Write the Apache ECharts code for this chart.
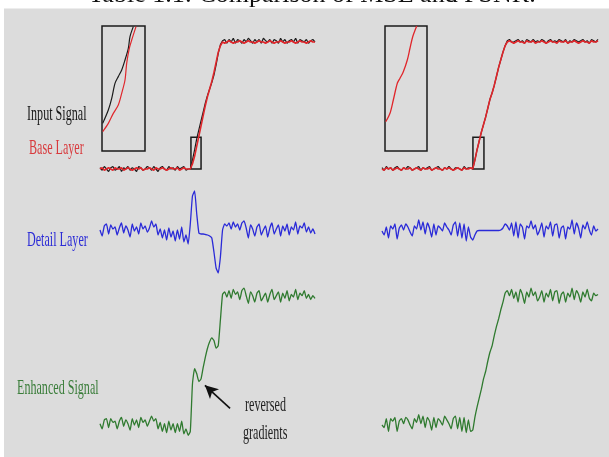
<!DOCTYPE html>
<html>
<head>
<meta charset="utf-8">
<script src="https://cdn.jsdelivr.net/npm/echarts@6/dist/echarts.min.js"></script>
<style>
html,body{margin:0;padding:0;background:#ffffff;}
#chart{width:609px;height:457px;}
</style>
</head>
<body>
<div id="chart"></div>
<script>
// ---- data (sample index 0..100 along each signal) ----
var inputLeft = [0.01,-0.01,0.02,0.0,-0.02,0.01,0.02,-0.01,0.0,0.02,-0.02,0.01,0.0,0.02,-0.01,0.01,0.0,-0.02,0.02,0.01,-0.01,0.0,0.02,0.01,-0.01,0.02,0.0,-0.02,0.01,0.02,0.0,-0.01,0.02,0.0,0.01,-0.01,0.02,0.0,0.01,0.02,-0.01,0.0,
  0.0,0.07,0.15,0.24,0.31,0.38,0.45,0.52,0.58,0.63,0.68,0.74,0.82,0.91,0.98,
  1.01,1.02,0.99,1.02,1.0,1.03,0.99,1.02,1.01,0.99,1.02,1.0,1.03,1.01,0.99,1.02,1.0,1.02,0.99,1.03,1.01,1.0,1.02,0.99,1.02,1.01,0.99,1.03,1.0,1.02,0.99,1.01,1.02,1.0,1.03,0.99,1.02,1.01,1.0,1.02,0.99,1.01,1.02,1.0];
var baseLeft = [0.0,0.01,-0.01,0.0,0.01,0.0,-0.01,0.01,0.0,0.0,0.01,-0.01,0.0,0.01,0.0,-0.01,0.0,0.01,0.0,0.01,-0.01,0.0,0.0,0.01,0.0,-0.01,0.01,0.0,0.0,0.01,0.0,-0.01,0.0,0.01,0.0,0.0,0.01,-0.01,0.0,0.01,0.0,0.0,
  0.0,0.04,0.10,0.18,0.26,0.34,0.42,0.50,0.57,0.63,0.69,0.76,0.84,0.92,0.97,
  1.0,0.99,1.0,1.01,1.0,0.99,1.0,1.0,1.01,1.0,0.99,1.0,1.01,1.0,1.0,0.99,1.0,1.01,1.0,1.0,0.99,1.0,1.01,1.0,0.99,1.0,1.0,1.01,1.0,0.99,1.0,1.0,1.01,1.0,0.99,1.0,1.01,1.0,1.0,0.99,1.0,1.01,1.0,1.0];
var inputRight = [0.01,-0.01,0.02,0.0,0.01,-0.01,0.01,0.02,0.0,-0.01,0.01,0.0,0.02,0.01,-0.01,0.0,0.01,0.02,-0.01,0.01,0.0,0.01,0.02,-0.01,0.0,0.01,0.02,0.0,-0.01,0.01,0.0,0.02,0.0,-0.01,0.01,0.01,0.0,-0.01,0.02,0.0,0.01,0.01,
  0.0,0.07,0.15,0.22,0.29,0.35,0.41,0.48,0.55,0.60,0.66,0.73,0.80,0.86,0.92,0.97,
  1.01,1.02,1.0,1.0,1.01,1.02,1.0,1.01,0.99,1.02,1.01,1.0,1.02,1.0,1.01,1.0,1.02,1.01,0.99,1.01,1.02,1.0,1.01,1.0,1.02,1.01,1.0,1.02,0.99,1.01,1.0,1.02,1.01,1.0,1.01,1.02,1.0,1.01,0.99,1.02,1.01,1.0,1.02];
var baseRight = [0.0,-0.01,0.01,0.0,0.01,-0.01,0.0,0.01,0.0,-0.01,0.01,0.0,0.0,0.01,-0.01,0.0,0.01,0.0,-0.01,0.01,0.0,0.0,0.01,-0.01,0.0,0.01,0.0,0.0,-0.01,0.01,0.0,0.01,0.0,-0.01,0.0,0.01,0.0,-0.01,0.01,0.0,0.0,0.01,
  0.0,0.07,0.15,0.22,0.29,0.35,0.41,0.48,0.55,0.60,0.66,0.73,0.80,0.86,0.92,0.97,
  1.0,1.01,1.0,0.99,1.0,1.01,1.0,1.0,0.99,1.01,1.0,1.0,1.01,0.99,1.0,1.0,1.01,1.0,0.99,1.0,1.01,1.0,1.0,0.99,1.01,1.0,1.0,1.01,0.99,1.0,1.0,1.01,1.0,0.99,1.0,1.01,1.0,1.0,0.99,1.01,1.0,1.0,1.01];
var detailLeft = [0.2,-0.4,0.6,0.8,-0.2,0.7,0.3,0.5,-0.3,0.4,0.9,-0.1,0.6,0.2,-0.5,0.8,0.1,0.5,-0.2,0.9,0.3,0.6,0.0,0.4,1.1,0.5,0.8,-0.3,0.3,-0.6,0.2,-0.8,0.4,-0.5,0.1,-0.9,0.2,-0.7,0.5,-1.0,-0.3,
  -1.2,0.8,3.6,4.1,1.8,-0.1,-0.2,-0.2,-0.25,-0.3,-0.4,-0.6,-2.0,-3.6,-4.1,-2.5,0.2,0.8,
  0.6,0.9,0.3,1.0,0.5,0.8,0.2,0.9,1.1,0.4,-0.6,0.7,0.3,-0.4,0.5,0.8,-0.3,0.2,0.6,-0.5,0.4,0.9,-0.2,0.3,0.7,-0.4,0.6,0.1,0.8,-0.3,0.5,0.2,1.0,-0.2,0.6,0.4,0.9,0.0,0.5,-0.1,0.3,-0.2];
var detailRight = [0.1,-0.3,0.5,-0.6,0.6,0.3,0.8,-0.7,0.4,0.7,0.2,0.8,0.5,0.0,-0.4,0.6,0.3,1.2,0.2,1.0,-0.2,0.9,0.4,-0.5,0.8,-0.3,0.6,0.4,0.1,0.9,0.5,0.2,-0.3,0.7,1.0,-0.4,0.9,-0.6,0.8,-0.9,0.5,-0.5,-0.8,-0.3,
  0.1,0.15,0.15,0.15,0.15,0.15,0.15,0.15,0.15,0.15,0.15,0.2,
  0.4,0.8,0.6,0.2,0.9,-0.4,1.0,-0.6,0.8,0.5,-0.7,0.6,0.4,1.1,0.3,0.7,-0.3,0.2,0.9,-0.5,0.6,0.3,1.0,-0.4,0.7,0.8,-0.6,0.4,0.6,-0.7,0.5,0.3,1.2,-0.2,0.9,0.4,-0.6,0.7,0.3,1.0,0.2,-0.3,0.6,0.1,0.3];
var enhancedLeft = [0.01,-0.03,0.04,0.05,-0.02,0.05,0.02,0.03,-0.03,0.03,0.06,-0.01,0.04,0.01,-0.04,0.05,0.0,0.04,-0.02,0.06,0.02,0.04,-0.01,0.03,0.07,0.03,0.05,-0.03,0.02,-0.05,0.01,-0.06,0.03,-0.04,0.01,-0.06,0.01,-0.05,0.03,-0.07,-0.03,-0.08,
  -0.05,0.32,0.44,0.40,0.34,0.36,0.45,0.53,0.60,0.65,0.68,0.66,0.60,0.62,0.82,1.02,
  1.04,1.0,1.05,0.99,1.06,1.02,1.04,0.98,1.05,1.07,1.01,0.95,1.04,1.01,0.96,1.03,1.05,0.97,1.0,1.03,0.96,1.02,1.06,0.98,1.01,1.04,0.96,1.03,0.99,1.05,0.97,1.02,1.0,1.06,0.98,1.03,1.01,1.05,0.99,1.02,0.98,1.01,0.99];
var enhancedRight = [0.0,-0.02,0.05,-0.05,0.05,0.03,0.06,-0.05,0.03,0.05,0.01,0.06,0.04,0.0,-0.03,0.05,0.02,0.08,0.01,0.07,-0.02,0.06,0.03,-0.04,0.06,-0.02,0.05,0.03,0.0,0.07,0.04,0.01,-0.03,0.05,0.07,-0.03,0.06,-0.05,0.06,-0.06,0.04,-0.05,
  -0.04,0.06,0.14,0.21,0.28,0.36,0.42,0.50,0.57,0.62,0.70,0.77,0.83,0.90,0.96,1.03,
  1.05,1.01,1.06,0.99,1.04,0.96,1.06,1.02,0.95,1.04,1.0,1.07,1.01,1.04,0.97,1.0,1.05,0.96,1.03,1.0,1.06,0.97,1.04,1.05,0.95,1.02,1.04,0.96,1.03,1.0,1.07,0.98,1.05,1.02,0.96,1.04,1.0,1.06,0.99,0.97,1.03,1.01,1.02];
// zoomed insets (box units 0..10)
var insetLeftBlackX = [0.16,1.47,2.26,3.02,3.79,4.58,5.35,6.12,6.51,7.28];
var insetLeftBlackY = [2.21,3.28,4.21,5.41,5.95,6.48,7.28,8.21,9.15,9.95];
var insetLeftRedX = [0.16,1.47,2.63,3.79,4.58,5.35,5.74,6.35,6.91,7.91];
var insetLeftRedY = [1.55,2.21,3.01,3.68,4.61,5.68,7.01,8.21,8.88,9.95];
var insetRightRedX = [0.17,1.19,1.98,2.93,3.57,4.36,5.31,5.95,6.60,7.55];
var insetRightRedY = [2.34,3.02,4.08,5.42,5.82,6.34,7.28,8.22,9.14,10.0];
// zoom box extent on the base plots [x0, y0, x1, y1]
var zoomBoxLeft = [42.3, 0, 47, 0.25];
var zoomBoxRight = [42.1, 0, 47.2, 0.25];
// arrow annotation (tail -> head) on the left enhanced plot
var arrowTail = [60.5, 0.13];
var arrowHead = [48.8, 0.31];
var labels = ['Input Signal', 'Base Layer', 'Detail Layer', 'Enhanced Signal', 'reversed', 'gradients'];
var titleText = 'Table 1.1: Comparison of MSE and PSNR.';

function idx(arr){ return arr.map(function(v,i){ return [i, v]; }); }
function zip(xs, ys){ return xs.map(function(x,i){ return [x, ys[i]]; }); }

var RED = '#e0262b', BLACK = '#1c1c1c', BLUE = '#2a2ad8', GREEN = '#2f7a2f';

var grids = [
  {left:100, width:215, top:29.3, height:152.4},
  {left:382, width:216, top:29.3, height:152.4},
  {left:100, width:215, top:182, height:100},
  {left:382, width:216, top:182, height:100},
  {left:100, width:215, top:258.6, height:192},
  {left:382, width:216, top:258.6, height:192},
  {left:102, width:43, top:26, height:125, show:true, borderColor:'#1a1a1a', borderWidth:1.5, backgroundColor:'transparent'},
  {left:385, width:42, top:26, height:125, show:true, borderColor:'#1a1a1a', borderWidth:1.5, backgroundColor:'transparent'}
];
var yr = [[-0.1,1.1],[-0.1,1.1],[-5,5],[-5,5],[-0.2,1.3],[-0.2,1.3],[0,10],[0,10]];
var xAxes = [], yAxes = [];
for (var g = 0; g < 8; g++) {
  xAxes.push({gridIndex:g, type:'value', min:0, max: g < 6 ? 100 : 10, show:false});
  yAxes.push({gridIndex:g, type:'value', min:yr[g][0], max:yr[g][1], show:false});
}

function line(gi, data, color, width, smooth, extra){
  var s = {type:'line', xAxisIndex:gi, yAxisIndex:gi, data:data, showSymbol:false, symbol:'none',
    smooth:smooth || false, lineStyle:{color:color, width:width}, itemStyle:{color:color}, silent:true, clip:true};
  if (extra) for (var k in extra) s[k] = extra[k];
  return s;
}
function boxArea(b){
  return {silent:true, itemStyle:{color:'rgba(0,0,0,0)', borderColor:'#1a1a1a', borderWidth:1.5},
    data:[[{coord:[b[0], b[1]]},{coord:[b[2], b[3]]}]]};
}

var series = [
  line(0, idx(inputLeft), BLACK, 1.2),
  line(0, idx(baseLeft), RED, 1.6, false, {markArea: boxArea(zoomBoxLeft)}),
  line(1, idx(inputRight), BLACK, 1.2),
  line(1, idx(baseRight), RED, 1.6, false, {markArea: boxArea(zoomBoxRight)}),
  line(2, idx(detailLeft), BLUE, 1.3, 0.15),
  line(3, idx(detailRight), BLUE, 1.3, 0.15),
  line(4, idx(enhancedLeft), GREEN, 1.3, 0.15, {markLine:{silent:true, symbol:['none','arrow'], symbolSize:[10,13],
    label:{show:false}, lineStyle:{color:'#111', width:1.6, type:'solid'},
    data:[[{coord:arrowTail},{coord:arrowHead}]]}}),
  line(5, idx(enhancedRight), GREEN, 1.3, 0.15),
  line(6, zip(insetLeftBlackX, insetLeftBlackY), BLACK, 1.2, 0.3),
  line(6, zip(insetLeftRedX, insetLeftRedY), RED, 1.2, 0.3),
  line(7, zip(insetRightRedX, insetRightRedY), RED, 1.3, 0.3)
];

function label(text, x, y, color){
  return {type:'text', x:x, y:y, scaleX:0.55, z:10,
    style:{text:text, fill:color, font:'22px "Liberation Serif", "DejaVu Serif", serif', textAlign:'left', textVerticalAlign:'middle'}};
}

var chart = echarts.init(document.getElementById('chart'), null, {renderer:'canvas'});
chart.setOption({
  backgroundColor:'#ffffff',
  animation:false,
  grid:grids,
  xAxis:xAxes,
  yAxis:yAxes,
  series:series,
  graphic:[
    {type:'text', x:312, y:-5, z:-2, style:{text:titleText, fill:'#111', font:'26px "Liberation Serif", serif', textAlign:'center', textVerticalAlign:'middle'}},
    {type:'rect', z:-1, shape:{x:4, y:8.5, width:605, height:449}, style:{fill:'#dcdcdc'}},
    label(labels[0], 27, 114, '#161616'),
    label(labels[1], 29, 148.5, '#d83a3d'),
    label(labels[2], 27, 240.5, '#2c2cd6'),
    label(labels[3], 17, 388.5, '#3a7d3a'),
    label(labels[4], 245, 405, '#222'),
    label(labels[5], 243, 433.5, '#222')
  ]
});
</script>
</body>
</html>
